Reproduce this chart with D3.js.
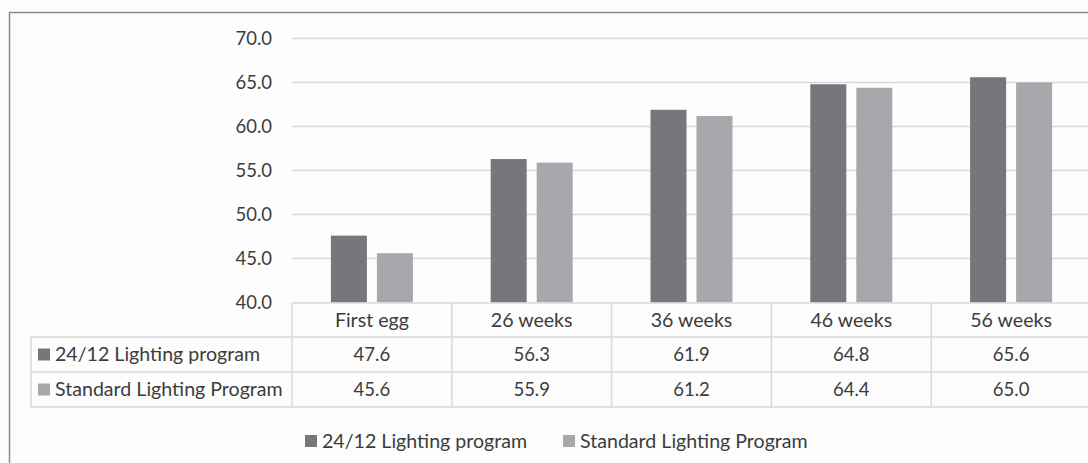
<!DOCTYPE html>
<html>
<head>
<meta charset="utf-8">
<script src="https://cdn.jsdelivr.net/npm/d3@7"></script>
<style>
  html, body { margin: 0; padding: 0; background: #fdfdfd; }
  svg { display: block; }
  text { font-family: Lato, "Open Sans", sans-serif; fill: #3c3c3c; }
</style>
</head>
<body>
<svg id="chart" width="1088" height="463"></svg>
<script>
// Egg weight by age under two lighting programs
const categories = ["First egg", "26 weeks", "36 weeks", "46 weeks", "56 weeks"];
const seriesNames = ["24/12 Lighting program", "Standard Lighting Program"];
const lighting2412 = [47.6, 56.3, 61.9, 64.8, 65.6];
const standardLighting = [45.6, 55.9, 61.2, 64.4, 65.0];
const yTicks = [40, 45, 50, 55, 60, 65, 70];

const series = [lighting2412, standardLighting];
const colors = ["#76777b", "#a6a8ab"];

const svg = d3.select("#chart");
const W = 1088, H = 463;
const numSize = 18.5, wordSize = 19.6;

// outer frame (runs past the right and bottom edges)
svg.append("rect")
  .attr("x", 9.5).attr("y", 12.5)
  .attr("width", W + 20).attr("height", H + 20)
  .attr("fill", "#fdfdfd")
  .attr("stroke", "#8c8c8c").attr("stroke-width", 1.5);

const plotLeft = 292, colW = 159.8;
const x = d3.scaleBand()
  .domain(categories)
  .range([plotLeft, plotLeft + colW * categories.length]);
const y = d3.scaleLinear().domain([40, 70]).range([302.5, 38.5]);

// gridlines
svg.append("g").selectAll("line")
  .data(yTicks.filter(t => t > 40))
  .join("line")
  .attr("x1", plotLeft).attr("x2", plotLeft + colW * 5)
  .attr("y1", d => y(d)).attr("y2", d => y(d))
  .attr("stroke", "#d9d9d9").attr("stroke-width", 1.3);

// y axis labels
const yAxis = d3.axisLeft(y).tickValues(yTicks).tickFormat(d3.format(".1f")).tickSize(0).tickPadding(0);
const ga = svg.append("g").attr("transform", `translate(272,0)`).call(yAxis);
ga.select(".domain").remove();
ga.selectAll("text")
  .attr("font-size", numSize)
  .attr("font-family", "Lato, sans-serif")
  .attr("fill", "#3c3c3c");

// bars
const barW = 36, gap = 10;
series.forEach((vals, si) => {
  svg.append("g").selectAll("rect")
    .data(vals)
    .join("rect")
    .attr("x", (d, i) => x(categories[i]) + x.bandwidth() / 2 + (si === 0 ? -gap / 2 - barW : gap / 2))
    .attr("y", d => y(d))
    .attr("width", barW)
    .attr("height", d => y(40) - y(d))
    .attr("fill", colors[si]);
});

// data table
const tableLeft = 31, rowTop = [303, 337, 372, 407];
const grid = "#d9d9d9";
const tbl = svg.append("g").attr("stroke", grid).attr("stroke-width", 1.5);
const tableRight = plotLeft + colW * 5;
// header top line
tbl.append("line").attr("x1", plotLeft).attr("x2", tableRight).attr("y1", rowTop[0]).attr("y2", rowTop[0]);
[1, 2, 3].forEach(r => {
  tbl.append("line").attr("x1", tableLeft).attr("x2", tableRight).attr("y1", rowTop[r]).attr("y2", rowTop[r]);
});
// vertical lines
tbl.append("line").attr("x1", tableLeft).attr("x2", tableLeft).attr("y1", rowTop[1]).attr("y2", rowTop[3]);
d3.range(categories.length + 1).forEach(i => {
  const xx = plotLeft + i * colW;
  tbl.append("line").attr("x1", xx).attr("x2", xx).attr("y1", rowTop[0]).attr("y2", rowTop[3]);
});

// header labels
svg.append("g").selectAll("text")
  .data(categories)
  .join("text")
  .attr("x", d => x(d) + x.bandwidth() / 2)
  .attr("y", (rowTop[0] + rowTop[1]) / 2)
  .attr("dy", "0.35em")
  .attr("text-anchor", "middle")
  .attr("font-size", wordSize)
  .text(d => d);

// value rows
series.forEach((vals, si) => {
  const cy = (rowTop[si + 1] + rowTop[si + 2]) / 2;
  svg.append("rect")
    .attr("x", 38).attr("y", cy - 6).attr("width", 12).attr("height", 12)
    .attr("fill", colors[si]);
  svg.append("text")
    .attr("x", 55).attr("y", cy).attr("dy", "0.35em")
    .attr("font-size", wordSize)
    .text(seriesNames[si]);
  svg.append("g").selectAll("text")
    .data(vals)
    .join("text")
    .attr("x", (d, i) => x(categories[i]) + x.bandwidth() / 2)
    .attr("y", cy).attr("dy", "0.35em")
    .attr("text-anchor", "middle")
    .attr("font-size", numSize)
    .text(d => d3.format(".1f")(d));
});

// legend
const legendY = 441;
const legendX = [305, 563];
seriesNames.forEach((name, si) => {
  svg.append("rect")
    .attr("x", legendX[si]).attr("y", legendY - 6).attr("width", 12).attr("height", 12)
    .attr("fill", colors[si]);
  svg.append("text")
    .attr("x", legendX[si] + 17).attr("y", legendY).attr("dy", "0.35em")
    .attr("font-size", wordSize)
    .text(name);
});
</script>
</body>
</html>
